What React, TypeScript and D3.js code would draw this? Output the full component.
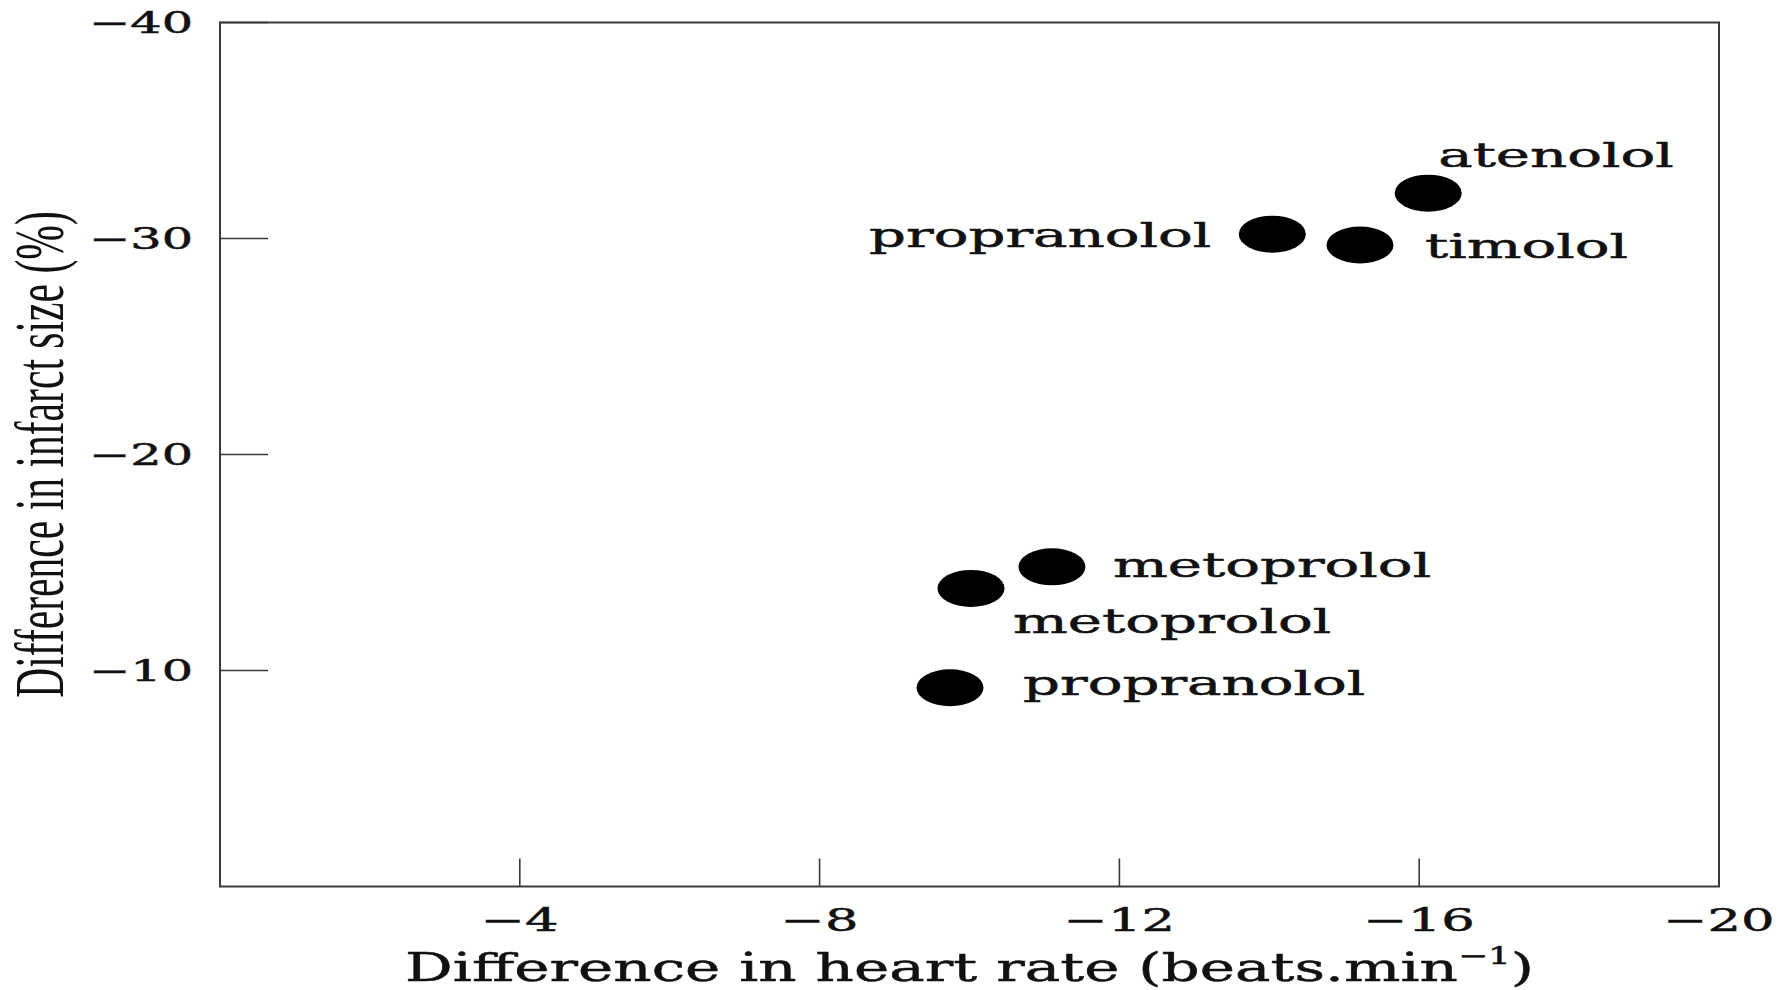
import React from "react";
import * as d3 from "d3";

// ---- data ----
const drugs = ["atenolol", "propranolol", "timolol", "metoprolol", "metoprolol", "propranolol"];
const heartRateDiff = [-16.12, -14.04, -15.21, -11.1, -10.02, -9.74];
const infarctSizeDiff = [-32.1, -30.2, -29.7, -14.8, -13.8, -9.2];
const xTicks = [-4, -8, -12, -16, -20];
const yTicks = [-10, -20, -30, -40];

// label placement relative to each point (layout only)
const labelPlacement = [
  { dx: 10, dy: -26, anchor: "start" },
  { dx: -61, dy: 13, anchor: "end" },
  { dx: 65, dy: 13, anchor: "start" },
  { dx: 61, dy: 10, anchor: "start" },
  { dx: 42, dy: 45, anchor: "start" },
  { dx: 73, dy: 7, anchor: "start" },
];

const W = 1791;
const H = 990;
const left = 220;
const right = 1719;
const top = 22.5;
const bottom = 886.5;
const SX = 1.7; // horizontal stretch of the reference typography
const serif = "'DejaVu Serif', serif";
const ink = "#111";
const heavy = { stroke: ink, strokeWidth: 0.5 };

export default function App() {
  const x = d3.scaleLinear().domain([0, -20]).range([left, right]);
  const y = d3.scaleLinear().domain([0, -40]).range([bottom, top]);
  const fmt = (v: number) => String(v).replace("-", "\u2212");

  return (
    <svg
      width={W}
      height={H}
      viewBox={`0 0 ${W} ${H}`}
      style={{ position: "absolute", left: 0, top: 0, background: "#fff" }}
    >
      <rect x={0} y={0} width={W} height={H} fill="#fff" />
      {/* frame */}
      <rect
        x={left}
        y={top}
        width={right - left}
        height={bottom - top}
        fill="none"
        stroke="#3a3a3a"
        strokeWidth={2}
      />
      {/* y ticks */}
      {yTicks.map((t) => (
        <g key={"y" + t}>
          <line x1={left} x2={left + 48} y1={y(t)} y2={y(t)} stroke="#3a3a3a" strokeWidth={1.6} />
          <text
            transform={`translate(193,${y(t) + 10}) scale(${SX},1)`}
            textAnchor="end"
            fontFamily={serif}
            fontSize={29}
            fill={ink}
            {...heavy}
          >
            {fmt(t)}
          </text>
        </g>
      ))}
      {/* x ticks */}
      {xTicks.map((t) => (
        <g key={"x" + t}>
          <line x1={x(t)} x2={x(t)} y1={bottom} y2={bottom - 28} stroke="#3a3a3a" strokeWidth={1.6} />
          <text
            transform={`translate(${x(t)},931) scale(${SX},1)`}
            textAnchor="middle"
            fontFamily={serif}
            fontSize={31}
            fill={ink}
            {...heavy}
          >
            {fmt(t)}
          </text>
        </g>
      ))}
      {/* points */}
      {drugs.map((d, i) => (
        <ellipse
          key={"p" + i}
          cx={x(heartRateDiff[i])}
          cy={y(infarctSizeDiff[i])}
          rx={33.5}
          ry={18.5}
          fill="#000"
        />
      ))}
      {/* point labels */}
      {drugs.map((d, i) => (
        <text
          key={"l" + i}
          transform={`translate(${x(heartRateDiff[i]) + labelPlacement[i].dx},${
            y(infarctSizeDiff[i]) + labelPlacement[i].dy
          }) scale(${SX},1)`}
          textAnchor={labelPlacement[i].anchor as any}
          fontFamily={serif}
          fontSize={34}
          fill={ink}
          {...heavy}
        >
          {d}
        </text>
      ))}
      {/* x title */}
      <text
        transform={`translate(${(left + right) / 2},981) scale(1.49,1)`}
        textAnchor="middle"
        fontFamily={serif}
        fontSize={40}
        fill={ink}
        {...heavy}
      >
        Difference in heart rate (beats.min
        <tspan fontSize={24} dy={-17}>
          {"\u22121"}
        </tspan>
        <tspan dy={17}>)</tspan>
      </text>
      {/* y title */}
      <text
        transform={`translate(63,${(top + bottom) / 2}) scale(${SX},1) rotate(-90)`}
        textAnchor="middle"
        fontFamily="'Liberation Serif', serif"
        fontSize={41.6}
        fill={ink}
      >
        Difference in infarct size (%)
      </text>
    </svg>
  );
}
